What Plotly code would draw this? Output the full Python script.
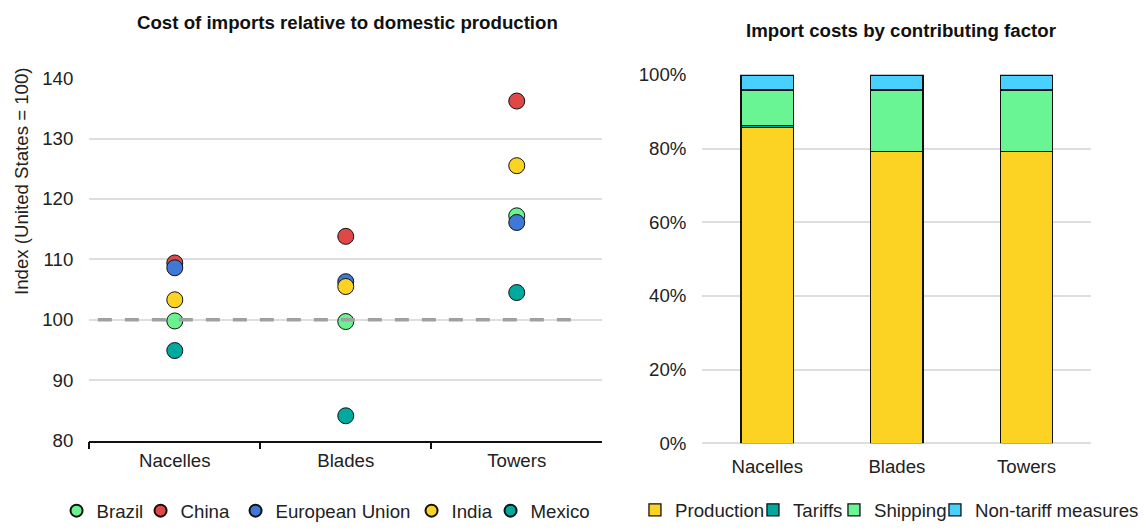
import plotly.graph_objects as go

# ---------------- data ----------------
components = ["Nacelles", "Blades", "Towers"]

countries = ["Brazil", "China", "European Union", "India", "Mexico"]
brazil = [99.8, 99.7, 117.2]
china = [109.4, 113.8, 136.2]
eu = [108.6, 106.3, 116.1]
india = [103.3, 105.5, 125.5]
mexico = [94.9, 84.1, 104.5]
country_values = [brazil, china, eu, india, mexico]
country_colors = ["#69F28F", "#E04848", "#3F78D6", "#FDD323", "#00A99D"]

reference_index = 100

factors = ["Production", "Tariffs", "Shipping", "Non-tariff measures"]
production = [85.7, 79.2, 79.2]
tariffs = [0.6, 0.0, 0.0]
shipping = [9.6, 16.7, 16.7]
non_tariff = [4.1, 4.1, 4.1]
factor_values = [production, tariffs, shipping, non_tariff]
factor_colors = ["#FDD323", "#00A99D", "#69F594", "#48D1FF"]

y_ticks_left = [80, 90, 100, 110, 120, 130, 140]
y_ticks_right = [0, 20, 40, 60, 80, 100]
y_ticktext_right = [f"{v}%" for v in y_ticks_right]

# ---------------- figure ----------------
W, H = 1145, 530


def px(x):
    return x / W


def py(y):
    return 1 - y / H


FONT = "Arial, Liberation Sans, sans-serif"
TXT = "#222222"
GRID = "#DEDEDE"
FS = 18.67

fig = go.Figure()

left_lw = [39, 50, 131, 34, 60]
for name, vals, col, lw in zip(countries, country_values, country_colors, left_lw):
    fig.add_trace(go.Scatter(
        x=components, y=vals, name=name, mode="markers",
        marker=dict(size=16, color=col, line=dict(color="#111111", width=1)),
        xaxis="x", yaxis="y", legend="legend", legendwidth=lw,
        cliponaxis=False,
    ))

right_lw = [73, 36, 56, 165]
for name, vals, col, lw in zip(factors, factor_values, factor_colors, right_lw):
    fig.add_trace(go.Bar(
        x=components, y=vals, name=name,
        marker=dict(color=col, line=dict(color="#111111", width=1.3)),
        xaxis="x2", yaxis="y2", legend="legend2", legendwidth=lw,
    ))

# plot area pixel geometry (target pixels)
L_x0, L_x1, L_top, L_bot = 90, 607, 79.3, 447.3
R_x0, R_x1, R_top, R_bot = 708, 1100, 76, 450

fig.add_shape(type="line", xref="x", yref="y",
              x0=-0.45, x1=2.33, y0=reference_index, y1=reference_index,
              line=dict(color="#A0A0A0", width=3.5, dash="14px,13px"), layer="above")

fig.update_layout(
    width=W, height=H,
    margin=dict(l=0, r=0, t=0, b=0),
    paper_bgcolor="white", plot_bgcolor="white",
    font=dict(family=FONT, size=FS, color=TXT),
    barmode="stack", bargap=0.597,
    showlegend=True,
    xaxis=dict(domain=[px(L_x0), px(L_x1)], type="category",
               range=[-0.5, 2.5], showline=True, linecolor="#111111", linewidth=1.5,
               ticks="outside", ticklen=7, tickwidth=1.5, tickcolor="#111111",
               tickson="boundaries", showgrid=False, automargin=False,
               tickfont=dict(size=FS, color=TXT), ticklabelstandoff=2),
    yaxis=dict(domain=[py(L_bot), py(L_top)], range=[80, 140],
               tickvals=y_ticks_left, showgrid=True, gridcolor=GRID, gridwidth=1.5,
               zeroline=False, showline=False, ticks="", automargin=False,
               tickfont=dict(size=FS, color=TXT), ticklabelstandoff=15),
    xaxis2=dict(domain=[px(R_x0), px(R_x1)], type="category", anchor="y2",
                range=[-0.5, 2.5], showline=False, ticks="", showgrid=False,
                automargin=False, tickfont=dict(size=FS, color=TXT),
                ticklabelstandoff=10),
    yaxis2=dict(domain=[py(R_bot), py(R_top)], anchor="x2", range=[0, 100],
                tickvals=y_ticks_right, ticktext=y_ticktext_right, showgrid=True,
                gridcolor=GRID, gridwidth=1.5, zeroline=True, zerolinecolor=GRID,
                zerolinewidth=1.5, showline=False, ticks="", automargin=False,
                tickfont=dict(size=FS, color=TXT), ticklabelstandoff=15),
    legend=dict(orientation="h", x=px(57), xanchor="left", y=py(519),
                yanchor="middle", font=dict(size=FS, color=TXT),
                itemsizing="constant", bgcolor="rgba(0,0,0,0)",
                itemclick=False, itemdoubleclick=False),
    legend2=dict(orientation="h", x=px(640), xanchor="left", y=py(518),
                 yanchor="middle", font=dict(size=FS, color=TXT),
                 bgcolor="rgba(0,0,0,0)", traceorder="normal",
                 itemclick=False, itemdoubleclick=False),
    annotations=[
        dict(text="<b>Cost of imports relative to domestic production</b>",
             xref="paper", yref="paper", x=px(350), y=py(22.7),
             xanchor="center", yanchor="middle", showarrow=False,
             font=dict(size=FS, color="#111111")),
        dict(text="<b>Import costs by contributing factor</b>",
             xref="paper", yref="paper", x=px(908), y=py(30.7),
             xanchor="center", yanchor="middle", showarrow=False,
             font=dict(size=FS, color="#111111")),
        dict(text="Index (United States = 100)",
             xref="paper", yref="paper", x=px(21), y=py(184),
             xanchor="center", yanchor="middle", textangle=-90, showarrow=False,
             font=dict(size=FS, color=TXT)),
    ],
)

post = (
    "document.documentElement.style.margin='0';"
    "document.body.style.margin='0';"
    "document.documentElement.style.overflow='hidden';"
    "document.body.style.overflow='hidden';"
)

fig.write_html("out.html", config={"displayModeBar": False}, post_script=post)
